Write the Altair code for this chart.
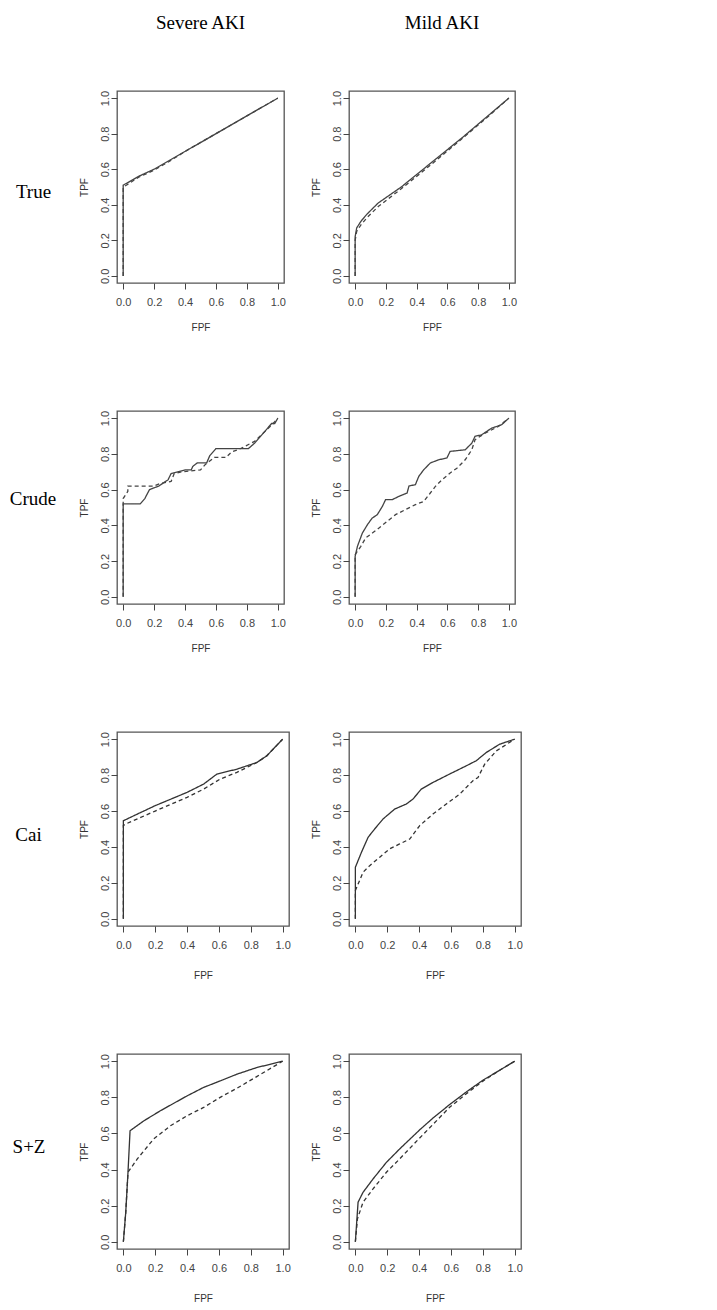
import altair as alt
import pandas as pd

# ---------------- data ----------------
COL_TITLES = ["Severe AKI", "Mild AKI"]
ROW_LABELS = ["True", "Crude", "Cai", "S+Z"]
TICKS = [0.0, 0.2, 0.4, 0.6, 0.8, 1.0]

# True / Severe
TRUE_SEV_SOLID_FPF = [0, 0, 0.02, 0.10, 0.20, 0.30, 0.40, 0.50, 0.60, 0.70, 0.80, 0.90, 1.0]
TRUE_SEV_SOLID_TPF = [0, 0.51, 0.52, 0.56, 0.60, 0.65, 0.70, 0.75, 0.80, 0.85, 0.90, 0.95, 1.0]
TRUE_SEV_DASH_FPF = [0, 0, 0.02, 0.10, 0.20, 0.30, 0.40, 0.50, 0.60, 0.70, 0.80, 0.90, 1.0]
TRUE_SEV_DASH_TPF = [0, 0.50, 0.51, 0.555, 0.595, 0.645, 0.70, 0.75, 0.80, 0.85, 0.90, 0.95, 1.0]
# True / Mild
TRUE_MILD_SOLID_FPF = [0, 0, 0.01, 0.04, 0.08, 0.15, 0.30, 0.50, 0.70, 0.85, 1.0]
TRUE_MILD_SOLID_TPF = [0, 0.22, 0.27, 0.31, 0.35, 0.41, 0.50, 0.64, 0.78, 0.89, 1.0]
TRUE_MILD_DASH_FPF = [0, 0, 0.01, 0.04, 0.08, 0.15, 0.30, 0.50, 0.70, 0.85, 1.0]
TRUE_MILD_DASH_TPF = [0, 0.20, 0.25, 0.29, 0.33, 0.39, 0.49, 0.63, 0.775, 0.885, 1.0]
# Crude / Severe
CRUDE_SEV_SOLID_FPF = [0, 0, 0.11, 0.14, 0.17, 0.23, 0.29, 0.31, 0.40, 0.44, 0.45, 0.48, 0.54,
                       0.56, 0.60, 0.72, 0.81, 0.85, 0.91, 0.96, 0.98, 1.0]
CRUDE_SEV_SOLID_TPF = [0, 0.52, 0.52, 0.55, 0.60, 0.62, 0.655, 0.69, 0.71, 0.71, 0.73, 0.75, 0.75,
                       0.79, 0.83, 0.83, 0.83, 0.86, 0.92, 0.97, 0.97, 1.0]
CRUDE_SEV_DASH_FPF = [0, 0, 0.03, 0.03, 0.20, 0.24, 0.31, 0.33, 0.38, 0.50, 0.53, 0.56, 0.59,
                      0.665, 0.70, 0.76, 0.85, 0.91, 0.97, 1.0]
CRUDE_SEV_DASH_TPF = [0, 0.55, 0.59, 0.62, 0.62, 0.635, 0.646, 0.69, 0.70, 0.71, 0.74, 0.76, 0.78,
                      0.78, 0.81, 0.83, 0.87, 0.92, 0.97, 1.0]
# Crude / Mild
CRUDE_MILD_SOLID_FPF = [0, 0, 0.015, 0.047, 0.08, 0.11, 0.144, 0.177, 0.198, 0.241, 0.284, 0.338,
                        0.35, 0.392, 0.414, 0.446, 0.489, 0.543, 0.597, 0.618, 0.716, 0.759, 0.78,
                        0.823, 0.888, 0.953, 1.0]
CRUDE_MILD_SOLID_TPF = [0, 0.227, 0.283, 0.357, 0.404, 0.44, 0.46, 0.506, 0.544, 0.544, 0.562, 0.581,
                        0.62, 0.628, 0.674, 0.711, 0.749, 0.767, 0.777, 0.814, 0.823, 0.86, 0.898,
                        0.907, 0.944, 0.963, 1.0]
CRUDE_MILD_DASH_FPF = [0, 0, 0.037, 0.069, 0.112, 0.155, 0.209, 0.263, 0.327, 0.392, 0.446, 0.489,
                       0.522, 0.565, 0.618, 0.662, 0.716, 0.759, 0.78, 0.845, 0.931, 1.0]
CRUDE_MILD_DASH_TPF = [0, 0.236, 0.283, 0.33, 0.357, 0.385, 0.423, 0.46, 0.488, 0.516, 0.534, 0.581,
                       0.618, 0.655, 0.693, 0.72, 0.767, 0.823, 0.879, 0.916, 0.953, 1.0]
# Cai / Severe
CAI_SEV_SOLID_FPF = [0, 0, 0.0875, 0.2, 0.3, 0.4, 0.504, 0.5875, 0.7125, 0.8375, 0.9, 1.0]
CAI_SEV_SOLID_TPF = [0, 0.546, 0.583, 0.63, 0.667, 0.704, 0.75, 0.806, 0.833, 0.87, 0.907, 1.0]
CAI_SEV_DASH_FPF = [0, 0, 0.015, 0.2, 0.3, 0.4, 0.504, 0.608, 0.7125, 0.8375, 0.9, 1.0]
CAI_SEV_DASH_TPF = [0, 0.52, 0.528, 0.60, 0.638, 0.676, 0.722, 0.778, 0.815, 0.87, 0.907, 1.0]
# Cai / Mild
CAI_MILD_SOLID_FPF = [0, 0, 0.038, 0.08, 0.121, 0.174, 0.247, 0.32, 0.362, 0.414, 0.487, 0.592,
                      0.697, 0.759, 0.822, 0.906, 1.0]
CAI_MILD_SOLID_TPF = [0, 0.287, 0.37, 0.454, 0.5, 0.556, 0.611, 0.639, 0.667, 0.722, 0.759, 0.806,
                      0.852, 0.88, 0.926, 0.972, 1.0]
CAI_MILD_DASH_FPF = [0, 0, 0.048, 0.09, 0.153, 0.215, 0.278, 0.341, 0.404, 0.487, 0.571, 0.655,
                     0.738, 0.77, 0.812, 0.885, 1.0]
CAI_MILD_DASH_TPF = [0, 0.157, 0.259, 0.296, 0.343, 0.389, 0.417, 0.444, 0.519, 0.583, 0.639, 0.694,
                     0.769, 0.787, 0.861, 0.935, 1.0]
# S+Z / Severe
SZ_SEV_SOLID_FPF = [0, 0.015, 0.029, 0.042, 0.129, 0.233, 0.4, 0.504, 0.608, 0.7125, 0.8375, 1.0]
SZ_SEV_SOLID_TPF = [0, 0.164, 0.385, 0.615, 0.67, 0.726, 0.808, 0.855, 0.891, 0.928, 0.965, 1.0]
SZ_SEV_DASH_FPF = [0, 0.015, 0.029, 0.0875, 0.19, 0.296, 0.4, 0.504, 0.608, 0.7125, 0.8375, 1.0]
SZ_SEV_DASH_TPF = [0, 0.164, 0.385, 0.459, 0.569, 0.643, 0.698, 0.744, 0.80, 0.85, 0.915, 1.0]
# S+Z / Mild
SZ_MILD_SOLID_FPF = [0, 0.017, 0.048, 0.111, 0.195, 0.278, 0.404, 0.487, 0.592, 0.697, 0.801, 0.906, 1.0]
SZ_MILD_SOLID_TPF = [0, 0.219, 0.274, 0.348, 0.44, 0.514, 0.62, 0.685, 0.76, 0.83, 0.895, 0.95, 1.0]
SZ_MILD_DASH_FPF = [0, 0.013, 0.048, 0.111, 0.195, 0.278, 0.404, 0.487, 0.592, 0.697, 0.801, 0.906, 1.0]
SZ_MILD_DASH_TPF = [0, 0.127, 0.219, 0.293, 0.385, 0.459, 0.575, 0.65, 0.745, 0.82, 0.89, 0.95, 1.0]


def curve_df(sx, sy, dx, dy):
    rows = []
    for i, (x, y) in enumerate(zip(sx, sy)):
        rows.append({"fpf": x, "tpf": y, "method": "solid", "i": i})
    for i, (x, y) in enumerate(zip(dx, dy)):
        rows.append({"fpf": x, "tpf": y, "method": "dashed", "i": i})
    return pd.DataFrame(rows)


SANS = "Liberation Sans"
SERIF = "Liberation Serif"


def panel(df, w, h, line_color, xtitle_pad, row_label=None, label_dx=0, label_dy=0,
          col_title=None, title_dx=0, anchor=False):
    xs = alt.Scale(domain=[-0.04, 1.04], nice=False, zero=False)
    ys = alt.Scale(domain=[-0.04, 1.04], nice=False, zero=False)
    common = dict(values=TICKS, format=".1f", grid=False, domain=False, tickSize=6,
                  tickColor="#444", tickWidth=1, labelFont=SANS, labelFontSize=11,
                  labelColor="#444", titleFont=SANS, titleFontSize=10,
                  titleFontWeight="normal", titleColor="#333",
                  labelFlush=False, labelOverlap=False)
    xaxis = alt.Axis(title="FPF", labelPadding=7, titlePadding=xtitle_pad, **common)
    yaxis = alt.Axis(title="TPF", labelAngle=270, labelAlign="center", labelBaseline="bottom",
                     labelPadding=1, titlePadding=10, **common)
    lines = alt.Chart(df).mark_line(strokeWidth=1.3, color=line_color).encode(
        x=alt.X("fpf:Q", scale=xs, axis=xaxis),
        y=alt.Y("tpf:Q", scale=ys, axis=yaxis),
        strokeDash=alt.StrokeDash("method:N",
                                  scale=alt.Scale(domain=["solid", "dashed"], range=[[1, 0], [4, 3]]),
                                  legend=None),
        order=alt.Order("i:Q"),
    )
    layers = [lines]
    if row_label is not None:
        txt = alt.Chart(pd.DataFrame({"label": [row_label]})).mark_text(
            font=SERIF, fontSize=19, align="center", baseline="middle", color="black"
        ).encode(x=alt.value(label_dx), y=alt.value(h / 2 + label_dy), text="label:N")
        layers.append(txt)
    if col_title is not None:
        ttl = alt.Chart(pd.DataFrame({"title": [col_title]})).mark_text(
            font=SERIF, fontSize=19, align="center", baseline="alphabetic", color="black"
        ).encode(x=alt.value(w / 2 + title_dx), y=alt.value(-62), text="title:N")
        layers.append(ttl)
    if anchor:
        rule = alt.Chart(pd.DataFrame({"a": [0]})).mark_rule(opacity=0).encode(
            x=alt.value(-116), x2=alt.value(-110), y=alt.value(-90), y2=alt.value(-90))
        layers.append(rule)
    return alt.layer(*layers).properties(width=w, height=h)


p1 = panel(curve_df(TRUE_SEV_SOLID_FPF, TRUE_SEV_SOLID_TPF, TRUE_SEV_DASH_FPF, TRUE_SEV_DASH_TPF),
           167, 192, "#444", 15, row_label=ROW_LABELS[0], label_dx=-83.5, label_dy=4.5,
           col_title=COL_TITLES[0], anchor=True)
p2 = panel(curve_df(TRUE_MILD_SOLID_FPF, TRUE_MILD_SOLID_TPF, TRUE_MILD_DASH_FPF, TRUE_MILD_DASH_TPF),
           166, 192, "#444", 15, col_title=COL_TITLES[1], title_dx=10)
p3 = panel(curve_df(CRUDE_SEV_SOLID_FPF, CRUDE_SEV_SOLID_TPF, CRUDE_SEV_DASH_FPF, CRUDE_SEV_DASH_TPF),
           167, 193, "#444", 15, row_label=ROW_LABELS[1], label_dx=-84, label_dy=-8.5)
p4 = panel(curve_df(CRUDE_MILD_SOLID_FPF, CRUDE_MILD_SOLID_TPF, CRUDE_MILD_DASH_FPF, CRUDE_MILD_DASH_TPF),
           166, 193, "#444", 15)
p5 = panel(curve_df(CAI_SEV_SOLID_FPF, CAI_SEV_SOLID_TPF, CAI_SEV_DASH_FPF, CAI_SEV_DASH_TPF),
           172, 194, "#333", 20, row_label=ROW_LABELS[2], label_dx=-88.5, label_dy=5.5)
p6 = panel(curve_df(CAI_MILD_SOLID_FPF, CAI_MILD_SOLID_TPF, CAI_MILD_DASH_FPF, CAI_MILD_DASH_TPF),
           172, 194, "#333", 20)
p7 = panel(curve_df(SZ_SEV_SOLID_FPF, SZ_SEV_SOLID_TPF, SZ_SEV_DASH_FPF, SZ_SEV_DASH_TPF),
           172, 195, "#333", 20, row_label=ROW_LABELS[3], label_dx=-88, label_dy=-4.5)
p8 = panel(curve_df(SZ_MILD_SOLID_FPF, SZ_MILD_SOLID_TPF, SZ_MILD_DASH_FPF, SZ_MILD_DASH_TPF),
           172, 195, "#333", 20)

chart = alt.concat(
    p1, p2, p3, p4, p5, p6, p7, p8,
    columns=2,
    spacing={"row": 128, "column": 60},
    bounds="flush",
    align="each",
).properties(
    padding=0,
    background="white",
).configure_view(
    stroke="#555", strokeWidth=1.3
)

chart.save("out.html", embed_options={"renderer": "svg", "actions": False})
